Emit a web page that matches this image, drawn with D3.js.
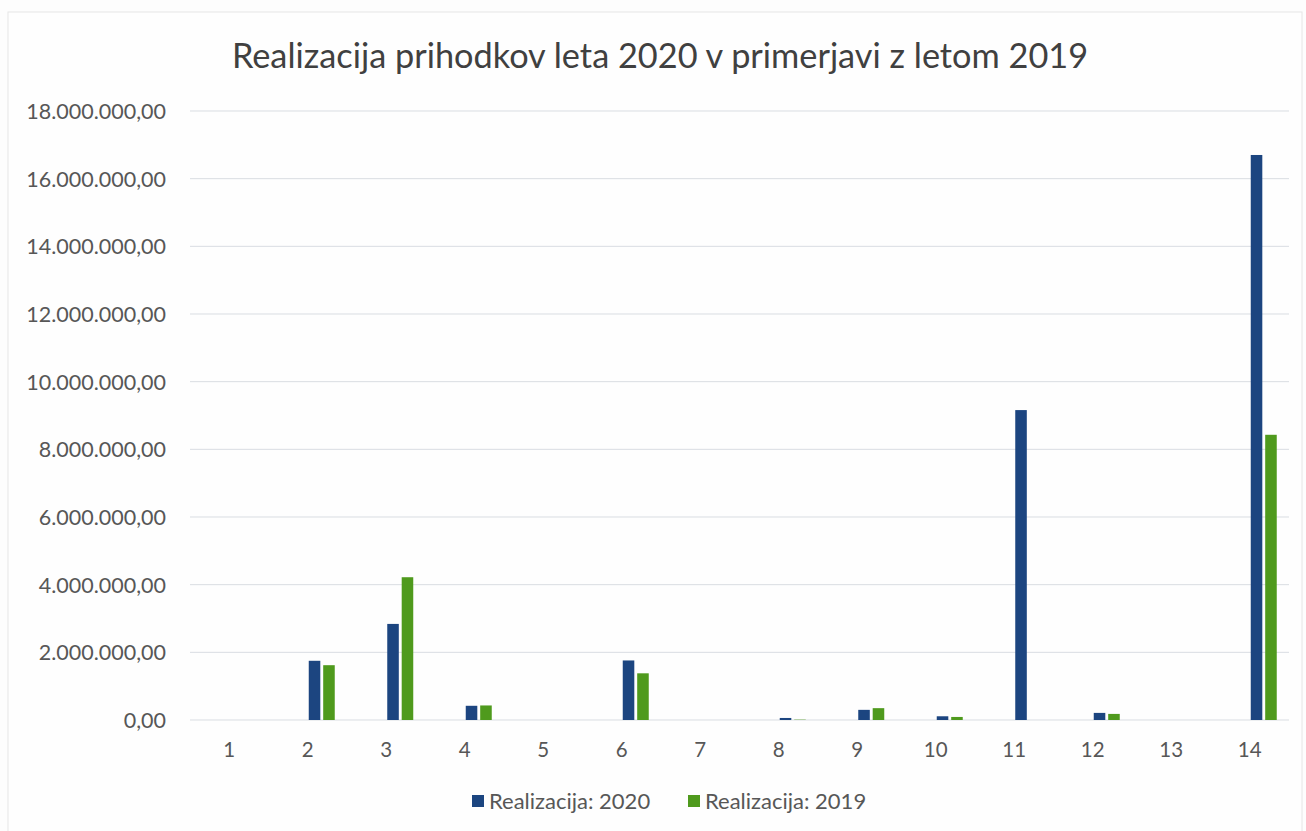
<!DOCTYPE html>
<html>
<head>
<meta charset="utf-8">
<script src="https://cdn.jsdelivr.net/npm/d3@7"></script>
<style>
  html, body { margin: 0; padding: 0; background: #fdfdfd; }
  svg { display: block; }
  text { font-family: Lato, "Open Sans", sans-serif; }
</style>
</head>
<body>
<svg id="chart" width="1306" height="831"></svg>
<script>
const categories = ["1","2","3","4","5","6","7","8","9","10","11","12","13","14"];
const seriesNames = ["Realizacija: 2020", "Realizacija: 2019"];
const values2020 = [0, 1750000, 2840000, 420000, 0, 1760000, 0, 60000, 300000, 110000, 9160000, 210000, 0, 16700000];
const values2019 = [0, 1620000, 4220000, 430000, 0, 1380000, 0, 10000, 350000, 90000, 0, 180000, 0, 8430000];
const yTicks = [0, 2000000, 4000000, 6000000, 8000000, 10000000, 12000000, 14000000, 16000000, 18000000];
const colors = ["#1c4580", "#4f9a1d"];
const title = "Realizacija prihodkov leta 2020 v primerjavi z letom 2019";

(function () {
const svg = d3.select("#chart");
const W = 1306, H = 831;

svg.append("rect").attr("x", 8).attr("y", 12).attr("width", W - 12).attr("height", H - 10)
  .attr("fill", "#fefefe").attr("stroke", "#e6e6e6").attr("stroke-width", 1);

const pLeft = 190, pRight = 1289, pTop = 111, pBottom = 720;

const x0 = d3.scaleBand().domain(categories).range([pLeft, pRight]).padding(0);
const x1 = d3.scaleBand().domain(seriesNames).range([1, 27]).paddingInner(0.2).paddingOuter(0);
const y = d3.scaleLinear().domain([0, 18000000]).range([pBottom, pTop]);

const fmt = v => {
  const intPart = Math.round(v).toString().replace(/\B(?=(\d{3})+(?!\d))/g, ".");
  return intPart + ",00";
};

svg.append("g").selectAll("line").data(yTicks).join("line")
  .attr("x1", pLeft).attr("x2", pRight)
  .attr("y1", d => y(d)).attr("y2", d => y(d))
  .attr("stroke", "#d9dde2").attr("stroke-width", 1);

const yAxis = d3.axisLeft(y).tickValues(yTicks).tickFormat(fmt).tickSize(0).tickPadding(0);
const yg = svg.append("g").attr("transform", `translate(166,0)`).call(yAxis);
yg.select(".domain").remove();
yg.selectAll("text").attr("font-size", 21.5).attr("fill", "#575757").attr("dy", "0.35em");

const xAxis = d3.axisBottom(x0).tickSize(0).tickPadding(0);
const xg = svg.append("g").attr("transform", `translate(0,${pBottom + 30})`).call(xAxis);
xg.select(".domain").remove();
xg.selectAll("text").attr("font-size", 20.5).attr("fill", "#575757").attr("dy", "0.35em");

const data = categories.map((c, i) => ({ cat: c, vals: [values2020[i], values2019[i]] }));
const groups = svg.append("g").selectAll("g").data(data).join("g")
  .attr("transform", d => `translate(${x0(d.cat) + x0.bandwidth() / 2},0)`);
groups.selectAll("rect").data(d => d.vals.map((v, k) => ({ v, k })))
  .join("rect")
  .attr("x", d => x1(seriesNames[d.k]))
  .attr("width", x1.bandwidth())
  .attr("y", d => y(d.v))
  .attr("height", d => y(0) - y(d.v))
  .attr("fill", d => colors[d.k]);

svg.append("text").attr("x", 660).attr("y", 68).attr("text-anchor", "middle")
  .attr("font-size", 34.3).attr("fill", "#404040").text(title);

const legendItems = [{ x: 472, name: seriesNames[0], c: colors[0] }, { x: 688, name: seriesNames[1], c: colors[1] }];
const lg = svg.append("g");
legendItems.forEach(it => {
  lg.append("rect").attr("x", it.x).attr("y", 795).attr("width", 12).attr("height", 12).attr("fill", it.c);
  lg.append("text").attr("x", it.x + 17).attr("y", 801).attr("dy", "0.35em")
    .attr("font-size", 22).attr("fill", "#575757").text(it.name);
});
})();
</script>
</body>
</html>
